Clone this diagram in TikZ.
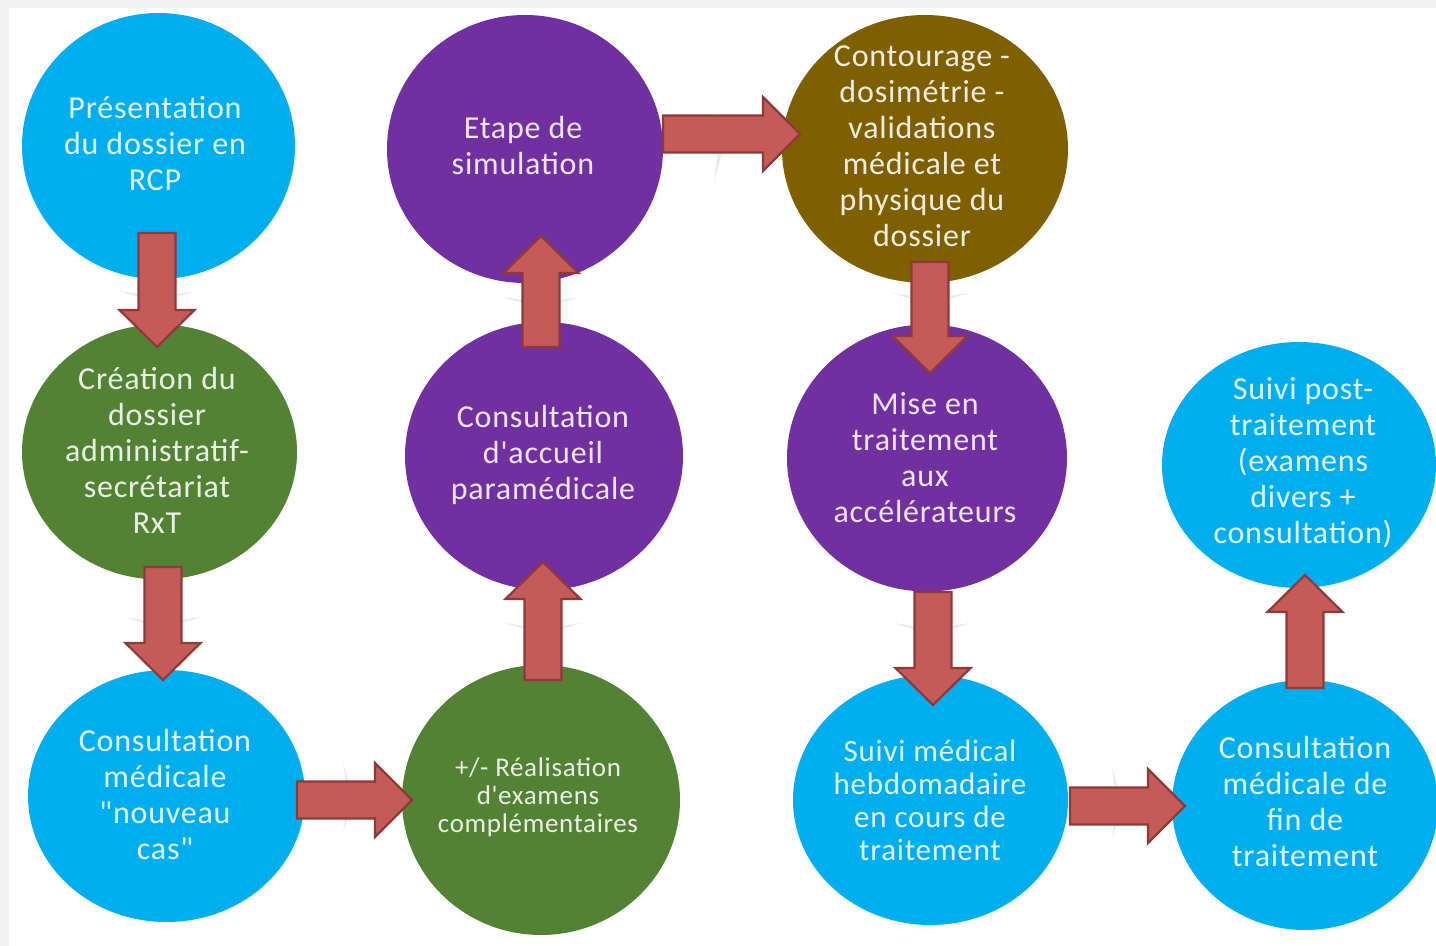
\documentclass[tikz,border=0pt]{standalone}
\usepackage{fontspec}
\setmainfont{Carlito}[Ligatures=TeXOff, LetterSpace=2.5]
\usetikzlibrary{shapes.geometric}
\definecolor{cy}{HTML}{00AEEF}
\definecolor{gr}{HTML}{538234}
\definecolor{pu}{HTML}{7030A0}
\definecolor{br}{HTML}{7F6000}
\definecolor{arf}{HTML}{C45B58}
\definecolor{ard}{HTML}{8E3A38}
\definecolor{frame}{HTML}{F2F2F2}
\definecolor{ghost}{HTML}{A9BCD6}
\tikzset{
  blob/.style={ellipse, inner sep=0pt, draw=none},
  lab/.style={align=center, text=white, text opacity=0.88, font=\fontsize{16pt}{18pt}\selectfont},
  barrow/.style={fill=arf, draw=ard, line width=1.1pt, line join=miter},
  ghostshape/.style={fill=ghost, draw=none, opacity=0.3}
}
% vertical block arrow: x, y start, y tip
\newcommand\varr[3]{%
  \draw[barrow] ({#1-18.5},#2) -- ({#1+18.5},#2) -- ({#1+18.5},{#3-37*sign(#3-#2)})
    -- ({#1+37.5},{#3-37*sign(#3-#2)}) -- (#1,#3) -- ({#1-37.5},{#3-37*sign(#3-#2)})
    -- ({#1-18.5},{#3-37*sign(#3-#2)}) -- cycle;}
% horizontal block arrow: y, x start, x tip
\newcommand\harr[3]{%
  \draw[barrow] (#2,{#1-18.5}) -- (#2,{#1+18.5}) -- ({#3-37},{#1+18.5})
    -- ({#3-37},{#1+37}) -- (#3,#1) -- ({#3-37},{#1-37}) -- ({#3-37},{#1-18.5}) -- cycle;}
% faint chevrons
\newcommand\vghost[2]{\fill[ghostshape] ({#1-38},{#2-5}) -- (#1,{#2+1}) -- ({#1+38},{#2-5}) -- (#1,{#2+7}) -- cycle;}
\newcommand\hghost[2]{\fill[ghostshape] ({#1-4},{#2-36}) -- ({#1+6},#2) -- ({#1-4},{#2+36}) -- ({#1+1},#2) -- cycle;}
\begin{document}
\begin{tikzpicture}[x=0.5pt, y=-0.5pt]
\useasboundingbox (0,0) rectangle (1436,946);
\clip (0,0) rectangle (1436,946);
\fill[frame] (0,0) rectangle (1436,946);
\fill[white] (9,8) rectangle (1436,946);

% faint SmartArt chevrons
\vghost{157}{296}
\vghost{163}{622}
\vghost{543}{628}
\vghost{541}{302}
\vghost{930}{298}
\vghost{932}{628}
\hghost{347}{798}
\hghost{718}{145}
\hghost{1116}{803}

% circles (sizes in pt = half the pixel size)
\node[blob, fill=cy, minimum width=136.5pt, minimum height=133pt] (n1) at (158.5,146) {};
\node[blob, fill=gr, minimum width=137.5pt, minimum height=127.5pt] (n2) at (159.5,452) {};
\node[blob, fill=cy, minimum width=138.5pt, minimum height=126pt] (n3) at (166.5,796) {};
\node[blob, fill=gr, minimum width=139pt, minimum height=135pt] (n4) at (541,800) {};
\node[blob, fill=pu, minimum width=139pt, minimum height=134pt] (n5) at (544,456) {};
\node[blob, fill=pu, minimum width=138pt, minimum height=134pt] (n6) at (525,149) {};
\node[blob, fill=br, minimum width=143pt, minimum height=134pt] (n7) at (925,149) {};
\node[blob, fill=pu, minimum width=140pt, minimum height=133.5pt] (n8) at (927,458) {};
\node[blob, fill=cy, minimum width=137.5pt, minimum height=125pt] (n9) at (930.5,800) {};
\node[blob, fill=cy, minimum width=133pt, minimum height=125pt] (n10) at (1305,805) {};
\node[blob, fill=cy, minimum width=137pt, minimum height=123pt] (n11) at (1299,465) {};

% labels
\node[lab] (t1) at (155,144) {Présentation\\du dossier en\\RCP};
\node[lab] (t2) at (157,450) {Création du\\dossier\\administratif-\\secrétariat\\RxT};
\node[lab] (t3) at (165,795) {Consultation\\médicale\\"nouveau\\cas"};
\node[lab, font=\fontsize{13.5pt}{14pt}\selectfont] (t4) at (538,797) {+/- Réalisation\\d'examens\\complémentaires};
\node[lab] (t5) at (543,455) {Consultation\\d'accueil\\paramédicale};
\node[lab] (t6) at (523,146) {Etape de\\simulation};
\node[lab] (t7) at (922,146) {Contourage -\\dosimétrie -\\validations\\médicale et\\physique du\\dossier};
\node[lab] (t8) at (925,458) {Mise en\\traitement\\aux\\accélérateurs};
\node[lab, font=\fontsize{15.5pt}{16.5pt}\selectfont] (t9) at (930,800) {Suivi médical\\hebdomadaire\\en cours de\\traitement};
\node[lab] (t10) at (1305,802) {Consultation\\médicale de\\fin de\\traitement};
\node[lab] (t11) at (1303,463) {Suivi post-\\traitement\\(examens\\divers +\\consultation)};

% block arrows
\varr{157}{233}{347}
\varr{163}{567}{680}
\harr{800}{297}{412}
\varr{543}{680}{562}
\varr{541}{347}{236}
\harr{134}{663}{800}
\varr{930}{262}{373}
\varr{933}{592}{705}
\harr{806}{1070}{1185}
\varr{1305}{688}{575}
\end{tikzpicture}
\end{document}
